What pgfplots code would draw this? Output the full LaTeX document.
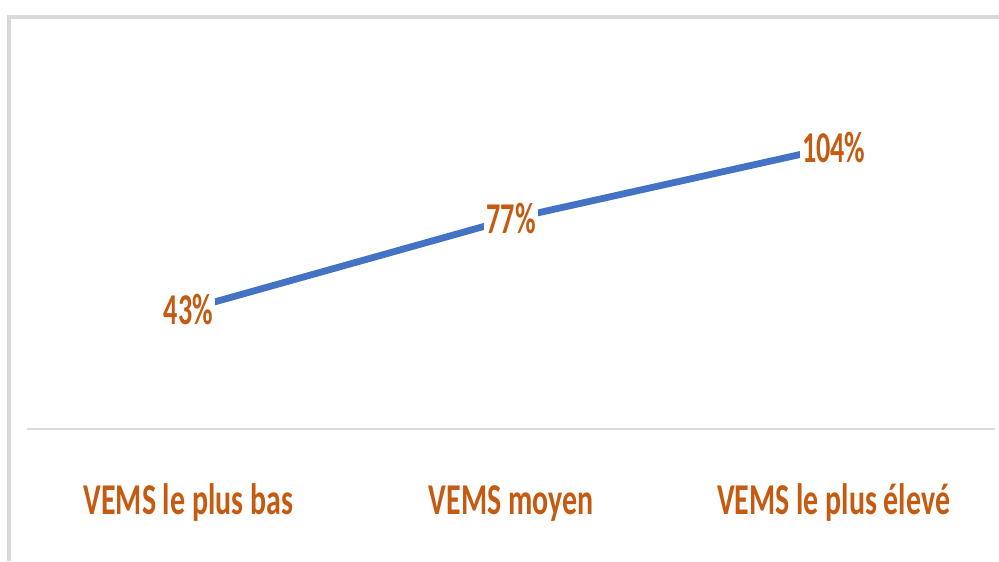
\documentclass[border=0pt]{standalone}
\usepackage{pgfplots}
\pgfplotsset{compat=1.18}
\usepackage{fontspec}
\setmainfont{Carlito}
\definecolor{lblorange}{HTML}{C55A11}
\definecolor{lineblue}{HTML}{4472C4}
\definecolor{framegray}{HTML}{D9D9D9}
\newcommand{\sq}[1]{\scalebox{0.68}[1]{#1}}
\begin{document}
\begin{tikzpicture}
\useasboundingbox (0,0) rectangle (499.5pt,280.5pt);
\fill[white] (0,0) rectangle (499.5pt,280.5pt);
\draw[framegray, line width=2pt] (4.5pt,0) -- (4.5pt,272pt) -- (499.5pt,272pt);
\begin{axis}[
  at={(13.5pt,66pt)}, anchor=south west,
  scale only axis, width=484pt, height=199.5pt,
  xmin=-0.5, xmax=2.5, ymin=-2, ymax=148,
  axis x line*=bottom, hide y axis,
  x axis line style={draw=framegray, line width=1pt, -},
  xtick={0,1,2},
  xticklabels={\sq{VEMS le plus bas}, \sq{VEMS moyen}, \sq{VEMS le plus élevé}},
  major tick length=0pt,
  xticklabel style={anchor=base, yshift=-42.5pt, font=\fontsize{22}{25}\selectfont\bfseries, text=lblorange},
  clip=false,
  point meta=explicit symbolic,
  nodes near coords={\scalebox{0.64}[1]{\pgfplotspointmeta}},
  every node near coord/.append style={anchor=center, fill=white, inner sep=1pt, font=\fontsize{22}{25}\selectfont\bfseries, text=lblorange},
]
\addplot[lineblue, line width=3.4pt, mark=none] coordinates {
  (0,43) [43\%]
  (1,77) [77\%]
  (2,104) [104\%]
};
\end{axis}
\end{tikzpicture}
\end{document}
